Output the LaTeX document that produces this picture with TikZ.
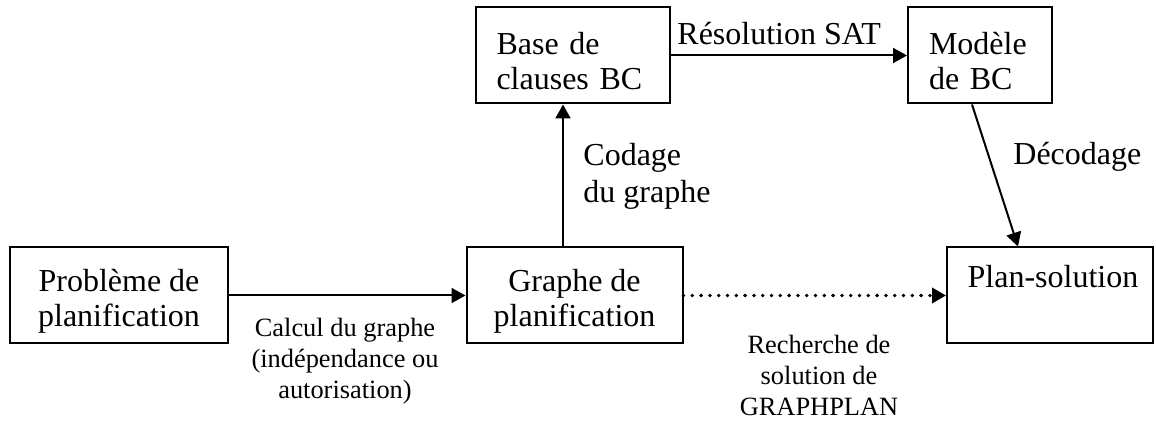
\documentclass[tikz,border=0pt]{standalone}
\usepackage{fontspec}
\setmainfont{Liberation Serif}
\usetikzlibrary{arrows.meta,calc}
\newcommand{\bigtxt}{\fontsize{16}{17.5}\selectfont}
\newcommand{\smalltxt}{\fontsize{13.2}{15.5}\selectfont}
\newcommand{\topstrut}{\rule{0pt}{16.5pt}}
\tikzset{
  box/.style={draw, line width=1pt, inner sep=0pt, font=\bigtxt, minimum height=48pt},
  flow/.style={line width=1pt, -{Triangle[length=7pt,width=7.5pt]}},
  lbl/.style={inner sep=0pt},
}
\begin{document}
\begin{tikzpicture}[x=0.5pt,y=0.5pt,yscale=-1,xscale=1]
%set diagram left start at 0, and has height of 421
\useasboundingbox (0,0) rectangle (1156,421);

%Shape: Rectangle
\node[box, minimum width=109pt, align=center] (prob) at (119,295.5) {\topstrut Problème de\\planification};
%Shape: Rectangle
\node[box, minimum width=108pt, align=center] (graphe) at (574.5,295.5) {\topstrut Graphe de\\planification};
%Shape: Rectangle
\node[box, inner xsep=10.5pt, text width=76pt, align=left] (base) at (572.5,55.5) {\topstrut Base de\\clauses BC};
%Shape: Rectangle
\node[box, inner xsep=10.5pt, text width=51pt, align=left] (mod) at (980,55.5) {\topstrut Modèle\\de BC};
%Shape: Rectangle
\node[box, minimum width=103pt] (plan) at (1050,295.5) {};
\node[lbl, font=\bigtxt, anchor=base] (plantxt) at (1053,288) {Plan-solution};

%Straight Lines
\draw[flow] (prob) -- (graphe);
%Straight Lines
\draw[flow] ($(graphe.north)+(-11.5,0)$) coordinate (up) -- (up |- base.south);
%Straight Lines
\draw[flow] (base) -- (mod);
%Straight Lines
\draw[flow] ($(mod.south)+(-8,0)$) -- ($(plan.north)+(-32,0)$);
%Straight Lines
\draw[flow, line width=1.9pt, line cap=round, dash pattern=on 0pt off 4.4pt] (graphe) -- (plan);

% Text Node
\node[lbl, anchor=north, align=center, font=\smalltxt] (calcul) at (345,318) {Calcul du graphe\\(indépendance ou\\autorisation)};
% Text Node
\node[lbl, anchor=north, align=center, font=\smalltxt] (recherche) at (819,335) {Recherche de\\solution de\\GRAPHPLAN};
% Text Node
\node[lbl, anchor=north west, align=left, font=\fontsize{16}{18.5}\selectfont] (codage) at (583,143) {Codage\\du graphe};
% Text Node
\node[lbl, anchor=base west, font=\bigtxt] (resol) at (677,45) {Résolution SAT};
% Text Node
\node[lbl, anchor=base west, font=\bigtxt] (decod) at (1013,165) {Décodage};
\end{tikzpicture}
\end{document}
